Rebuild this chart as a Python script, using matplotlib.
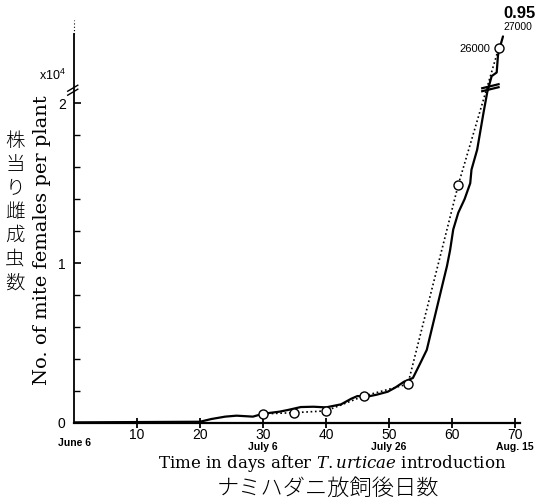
import numpy as np
import matplotlib.pyplot as plt
from matplotlib import transforms
from matplotlib.ticker import FixedLocator, NullFormatter

plt.rcParams['font.family'] = ['Liberation Sans', 'DejaVu Sans']
plt.rcParams['mathtext.fontset'] = 'custom'
plt.rcParams['mathtext.rm'] = 'DejaVu Serif'
plt.rcParams['mathtext.it'] = 'DejaVu Serif:italic'
plt.rcParams['mathtext.sf'] = 'Liberation Sans'

# sampled counts per plant (open circles, dotted line)
obs_day = [30, 35, 40, 46, 53, 61, 67.4]
obs_count = [550, 630, 740, 1670, 2420, 14900, 26000]

# fitted curve (solid line)
curve_day = [0, 5, 10, 15, 20, 21.8, 24, 25.8, 28.4, 30, 32.6, 34, 36, 38, 40,
             42.4, 44, 45, 46.5, 48, 49.8, 51, 52.4, 53.8, 55, 56, 57, 58.4,
             59.2, 59.7, 60.2, 61, 62, 62.9, 63.1, 64, 65, 65.6,
             66.3, 67.1, 67.3, 67.5, 68.1]
curve_count = [20, 30, 40, 50, 60, 230, 380, 440, 380, 560, 690, 800, 980, 1000, 960,
               1150, 1500, 1670, 1630, 1750, 1940, 2200, 2570, 2800, 3750, 4560, 6200, 8500,
               9800, 10800, 12100, 13150, 14000, 15000, 15850, 17100, 19400, 20700,
               23700, 24000, 25400, 25900, 27000]

x_ticks = [10, 20, 30, 40, 50, 60, 70]
date_pos = [0, 30, 50, 70]
date_labels = ['June 6', 'July 6', 'July 26', 'Aug. 15']
y_major = [0, 1, 2]
y_minor = [0.2, 0.4, 0.6, 0.8, 1.2, 1.4, 1.6, 1.8]

# broken y axis (units of 10^4): lower part 0..B, upper part from V0 upward
B, V0, K = 2.07, 2.236, 0.753
YTOP = 2.84


def fwd(v):
    v = np.asarray(v, dtype=float)
    return np.where(v <= B, v, np.where(v < V0, B, B + (v - V0) * K))


def inv(t):
    t = np.asarray(t, dtype=float)
    return np.where(t <= B, t, V0 + (t - B) / K)


fig = plt.figure(figsize=(5.4, 5.04), dpi=100)
ax = fig.add_axes([74 / 540, 1 - 422.7 / 504, 446 / 540, (422.7 - 19.6) / 504])
ax.set_yscale('function', functions=(fwd, inv))

od = np.array(obs_day)
oc = np.array(obs_count) / 1e4
cd = np.array(curve_day)
cc = np.array(curve_count) / 1e4

ax.plot(cd, cc, color='black', lw=1.6, solid_capstyle='round', zorder=3)
ax.plot(od, oc, color='black', lw=1.2, ls=(0, (1, 1.6)), zorder=2)
ax.plot(od, oc, 'o', ms=6.5, mfc='white', mec='black', mew=1.0, zorder=4)

ax.set_xlim(0, 70.8)
ax.set_ylim(0, YTOP)

for s in ['top', 'right', 'left']:
    ax.spines[s].set_visible(False)
ax.spines['bottom'].set_linewidth(1.6)

# left axis line: solid, dotted above
ytop_solid = 2.717
ax.plot([0, 0], [0, ytop_solid], color='black', lw=1.3, clip_on=False, zorder=5)
ax.plot([0, 0], [ytop_solid, YTOP], color='black', lw=0.8, ls=(0, (1, 2)),
        clip_on=False, zorder=5)

ax.set_xticks(x_ticks)
ax.set_xticklabels([str(v) for v in x_ticks], fontsize=10)
ax.tick_params(axis='x', direction='inout', length=7, width=1.3, pad=0.5)

ax.yaxis.set_major_locator(FixedLocator(y_major))
ax.yaxis.set_minor_locator(FixedLocator(y_minor))
ax.yaxis.set_minor_formatter(NullFormatter())
ax.set_yticklabels([str(v) for v in y_major], fontsize=10)
ax.tick_params(axis='y', which='major', direction='in', length=5, width=1.2, pad=6)
ax.tick_params(axis='y', which='minor', direction='in', length=4, width=1.0)

# date labels under the day numbers
tr = transforms.blended_transform_factory(ax.transData, fig.transFigure)
for d, lab in zip(date_pos, date_labels):
    yy = 1 - (443 if d == 0 else 446.5) / 504
    ax.text(d, yy, lab, transform=tr, ha='center', va='center', fontsize=7.5,
            fontweight='bold')

# break marks
ah = (422.7 - 19.6)
bf = float(fwd(B) / fwd(YTOP))
trb = transforms.blended_transform_factory(ax.transData, ax.transAxes)
px = 1 / ah
for dy in (0.0, 4.0):
    ax.plot([-1.0, 0.6], [bf - 3 * px + dy * px, bf + 3 * px + dy * px], color='black',
            lw=1.0, transform=trb, clip_on=False, zorder=6)
for dy in (0.0, 3.0):
    ax.plot([64.8, 67.4], [bf + 1 * px + dy * px, bf + 5 * px + dy * px], color='black',
            lw=1.6, transform=trb, clip_on=False, zorder=6)

# annotations at the top
fig.text(52 / 540, 1 - 75 / 504, r'$\mathsf{x10^4}$', fontsize=9, ha='center', va='center')
fig.text(490 / 540, 1 - 49 / 504, '26000', fontsize=8, ha='right', va='center')
fig.text(518 / 540, 1 - 27.5 / 504, '27000', fontsize=7.5, ha='center', va='center')
fig.text(519 / 540, 1 - 14 / 504, '0.95', fontsize=12, fontweight='bold',
         ha='center', va='center')

# axis titles
fig.text(332 / 540, 1 - 464 / 504,
         r'Time in days after $\mathit{T.urticae}$ introduction',
         family='DejaVu Serif', fontsize=12, ha='center', va='center')
fig.text(328 / 540, 1 - 489 / 504, 'ナミハダニ放飼後日数',
         family=['Noto Sans CJK JP', 'DejaVu Sans'], fontsize=16, fontweight='light',
         ha='center', va='center')
fig.text(42 / 540, 1 - 240 / 504, 'No. of mite females per plant',
         family='DejaVu Serif', fontsize=14, rotation=90,
         ha='center', va='center')
fig.text(15 / 540, 1 - 212 / 504, '\n'.join('株当り雌成虫数'),
         family=['Noto Sans CJK JP', 'DejaVu Sans'], fontsize=14, fontweight='light',
         ha='center', va='center', linespacing=1.16)

fig.savefig('out.png', dpi=100)
